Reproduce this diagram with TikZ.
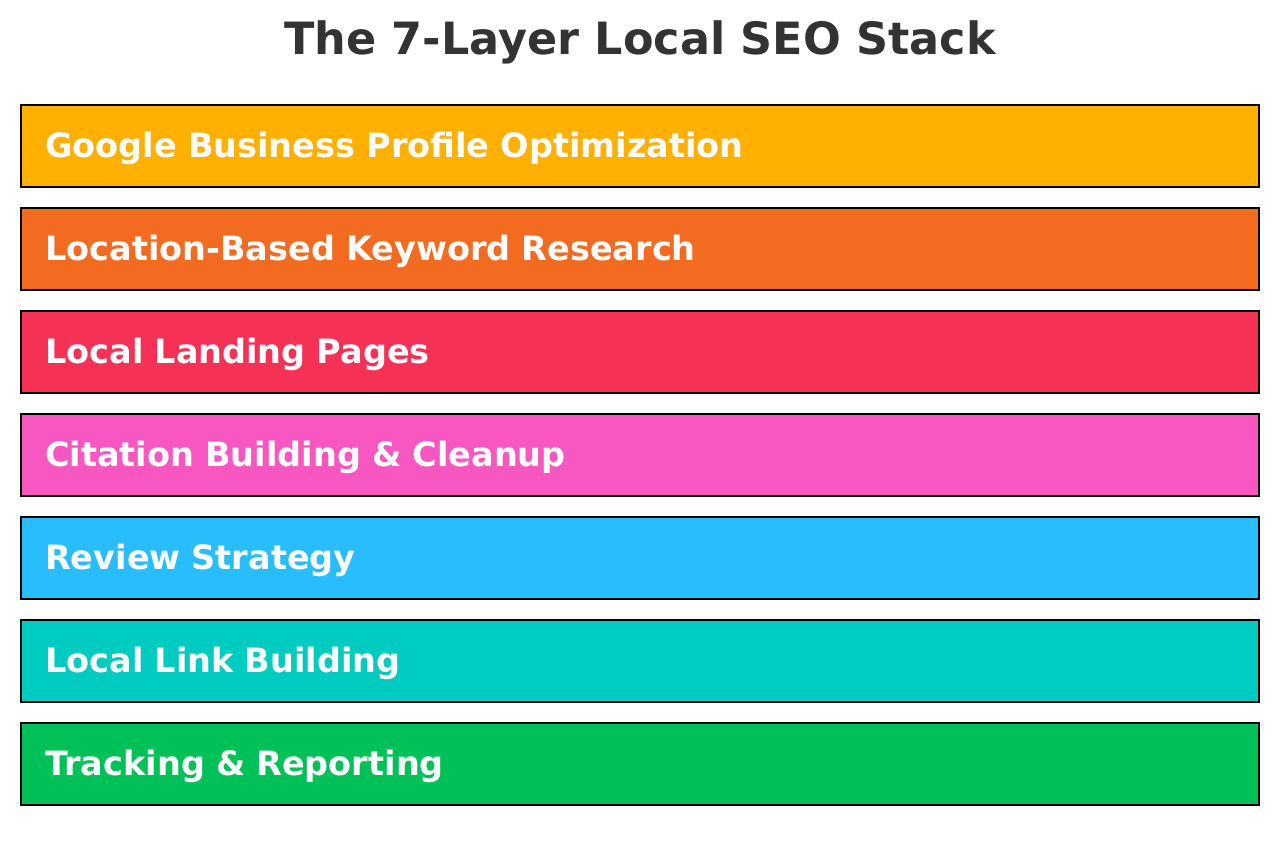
\documentclass[tikz,border=0pt]{standalone}
\usepackage{fontspec}
\setmainfont{DejaVu Sans}
\usetikzlibrary{positioning}
\definecolor{gbpcol}{HTML}{FFB000}
\definecolor{kwcol}{HTML}{F26B21}
\definecolor{landcol}{HTML}{F53255}
\definecolor{citecol}{HTML}{F857C1}
\definecolor{revcol}{HTML}{29BDFD}
\definecolor{linkcol}{HTML}{00CBC0}
\definecolor{trackcol}{HTML}{00C158}
\definecolor{titlegray}{HTML}{333333}
\tikzset {
  x=1pt, y=1pt,
  every node/.style={font=\bfseries},
  layer/.style={draw=black, line width=2.4pt, anchor=north west,
    minimum height=82pt, inner xsep=24pt, text width=1190pt,
    text height=29pt, text depth=7pt,
    align=left, text=white, font=\bfseries\fontsize{33.5}{38}\selectfont},
}

\begin{document}
\begin{tikzpicture}
  \useasboundingbox (0,0) rectangle (1280,-860);

  \node[text=titlegray, font=\bfseries\fontsize{44.5}{52}\selectfont,
    anchor=base] (title) at (640,-54) {The 7-Layer Local SEO Stack};

  \foreach \name/\col/\txt [count=\i from 0] in {
      gbp/gbpcol/Google Business Profile Optimization,
      kw/kwcol/Location-Based Keyword Research,
      land/landcol/Local Landing Pages,
      cite/citecol/Citation Building \& Cleanup,
      rev/revcol/Review Strategy,
      link/linkcol/Local Link Building,
      track/trackcol/Tracking \& Reporting} {
    \node[layer, fill=\col] (\name) at (20,-104-103*\i) {\txt};
  }
\end{tikzpicture}
\end{document}
